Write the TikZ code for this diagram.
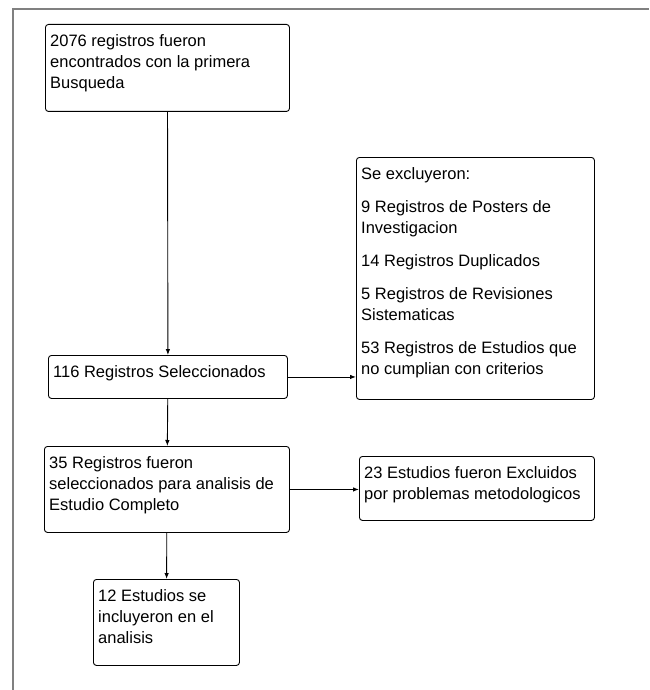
\documentclass[tikz,border=0pt]{standalone}
\usepackage{fontspec}
\setmainfont{Liberation Sans}
\usetikzlibrary{positioning,arrows.meta}
\tikzstyle{blk}=[draw, rounded corners=3pt, line width=0.9pt, anchor=north west, inner sep=0pt]
\tikzstyle{txt}=[anchor=north west, align=left, inner xsep=5pt, inner ysep=10pt, font=\fontsize{16.5}{21}\selectfont]
\tikzstyle{frm}=[draw=gray, line width=1.3pt]
\tikzstyle{lnk}=[->, line width=0.9pt]

\begin{document}
\begin{tikzpicture}[x=1pt,y=-1pt,>={Latex[length=6pt,width=4.5pt]},label distance=0pt]
\useasboundingbox (0,0) rectangle (649,690);
% marco
\draw[frm] (13,690) -- (13,9) -- (649,9);

\node[blk, minimum width=244pt, minimum height=87pt,
  label={[txt]north west:2076 registros fueron\\encontrados con la primera\\Busqueda}] (srch) at (45,24) {};
\node[blk, minimum width=239pt, minimum height=43pt,
  label={[txt]north west:116 Registros Seleccionados}] (sel) at (48,355) {};
\node[blk, minimum width=238pt, minimum height=242pt,
  label={[txt]north west:Se excluyeron:\\[12pt]9 Registros de Posters de\\Investigacion\\[12pt]14 Registros Duplicados\\[12pt]5 Registros de Revisiones\\Sistematicas\\[12pt]53 Registros de Estudios que\\no cumplian con criterios}] (excl) at (356,157) {};
\node[blk, minimum width=245pt, minimum height=86pt,
  label={[txt]north west:35 Registros fueron\\seleccionados para analisis de\\Estudio Completo}] (full) at (44,446) {};
\node[blk, minimum width=235pt, minimum height=64pt,
  label={[txt]north west:23 Estudios fueron Excluidos\\por problemas metodologicos}] (excl2) at (359,456) {};
\node[blk, minimum width=146pt, minimum height=86pt,
  label={[txt]north west:12 Estudios se\\incluyeron en el\\analisis}] (incl) at (93,579) {};

\draw[lnk] (srch) -- (sel);
\draw[lnk] (sel) -- (sel -| excl.west);
\draw[lnk] (sel) -- (full);
\draw[lnk] (full) -- (full -| excl2.west);
\draw[lnk] (full) -- (incl);
\end{tikzpicture}
\end{document}
